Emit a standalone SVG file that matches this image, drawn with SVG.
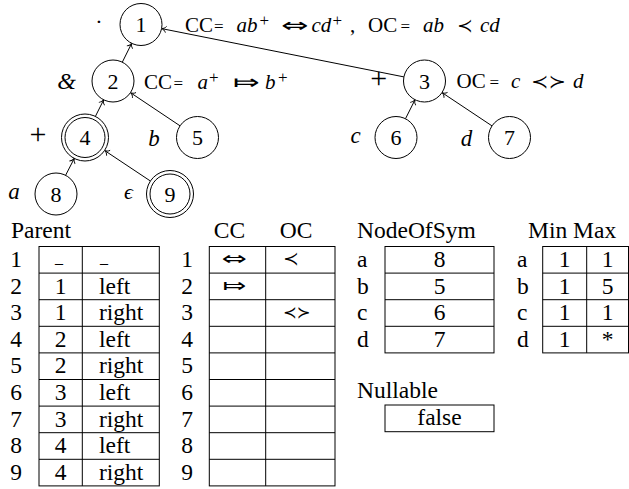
<svg xmlns="http://www.w3.org/2000/svg" width="629" height="489" viewBox="0 0 629 489">
<style>
.nd circle { fill: #fff; stroke: #000; stroke-width: 1; }
.d { font-size: 22px; text-anchor: middle; }
.lb { font-size: 21px; }
.i { font-style: italic; }
.op { text-anchor: middle; }
.tb { font-size: 23.5px; }
.ln { fill: none; stroke: #000; stroke-width: 1; }
.c { text-anchor: middle; }
</style>

<g id="connectors" stroke="#000" stroke-width="1" fill="none">
<line x1="122.3" y1="62.2" x2="131.7" y2="43.3"/>
<line x1="403.9" y1="76.9" x2="161.6" y2="28.6"/>
<line x1="95.4" y1="116.4" x2="103.7" y2="99.8"/>
<line x1="180.0" y1="125.8" x2="130.5" y2="92.7"/>
<line x1="405.5" y1="118.7" x2="415.0" y2="99.8"/>
<line x1="492.0" y1="125.9" x2="442.0" y2="92.6"/>
<line x1="65.6" y1="175.3" x2="74.3" y2="158.4"/>
<line x1="150.4" y1="181.0" x2="104.6" y2="150.5"/>
<g stroke-width="0.9">
<path transform="translate(131.7,43.3) rotate(-63.6)" d="M-4.5,-3.2C-3.5,-1.2 -1.5,-0.3 0,0C-1.5,0.3 -3.5,1.2 -4.5,3.2"/>
<path transform="translate(161.6,28.6) rotate(-168.7)" d="M-4.5,-3.2C-3.5,-1.2 -1.5,-0.3 0,0C-1.5,0.3 -3.5,1.2 -4.5,3.2"/>
<path transform="translate(103.7,99.8) rotate(-63.6)" d="M-4.5,-3.2C-3.5,-1.2 -1.5,-0.3 0,0C-1.5,0.3 -3.5,1.2 -4.5,3.2"/>
<path transform="translate(130.5,92.7) rotate(-146.2)" d="M-4.5,-3.2C-3.5,-1.2 -1.5,-0.3 0,0C-1.5,0.3 -3.5,1.2 -4.5,3.2"/>
<path transform="translate(415.0,99.8) rotate(-63.2)" d="M-4.5,-3.2C-3.5,-1.2 -1.5,-0.3 0,0C-1.5,0.3 -3.5,1.2 -4.5,3.2"/>
<path transform="translate(442.0,92.6) rotate(-146.4)" d="M-4.5,-3.2C-3.5,-1.2 -1.5,-0.3 0,0C-1.5,0.3 -3.5,1.2 -4.5,3.2"/>
<path transform="translate(74.3,158.4) rotate(-62.8)" d="M-4.5,-3.2C-3.5,-1.2 -1.5,-0.3 0,0C-1.5,0.3 -3.5,1.2 -4.5,3.2"/>
<path transform="translate(104.6,150.5) rotate(-146.4)" d="M-4.5,-3.2C-3.5,-1.2 -1.5,-0.3 0,0C-1.5,0.3 -3.5,1.2 -4.5,3.2"/>
</g>
</g>

<g id="node1" class="nd">
<circle cx="141" cy="24.5" r="21"/>
<text class="d" x="141" y="32" style="font-family:'Liberation Serif',serif">1</text>
<text class="op" x="99" y="29" font-size="22" style="font-family:'Liberation Serif',serif">·</text>
<text class="lb" y="31.5" style="font-family:'Liberation Serif',serif"><tspan x="185">CC</tspan><tspan x="214" font-size="17">=</tspan><tspan x="236.5" class="i">ab</tspan><tspan x="259.5" y="25.5" font-size="17">+</tspan><tspan x="311.5" y="31.5" class="i">cd</tspan><tspan x="332.5" y="25.5" font-size="17">+</tspan><tspan x="350" y="31.5">,</tspan><tspan x="368">OC</tspan><tspan x="400.5" font-size="17">=</tspan><tspan x="423" class="i">ab</tspan><tspan x="480" class="i">cd</tspan></text>
<text transform="translate(281,31.5) scale(1.65,1)" x="0" y="0" font-size="20" style="font-family:'DejaVu Sans',sans-serif">⇔</text>
<text x="457" y="31.5" font-size="19" style="font-family:'DejaVu Sans',sans-serif">≺</text>
</g>

<g id="node2" class="nd">
<circle cx="113" cy="81" r="21"/>
<text class="d" x="113" y="88.5" style="font-family:'Liberation Serif',serif">2</text>
<text class="op i" x="66.7" y="88.5" font-size="24" style="font-family:'Liberation Serif',serif">&amp;</text>
<text class="lb" y="88.5" style="font-family:'Liberation Serif',serif"><tspan x="144">CC</tspan><tspan x="173.5" font-size="17">=</tspan><tspan x="197.5" class="i">a</tspan><tspan x="209" y="82.5" font-size="17">+</tspan><tspan x="265" y="88.5" class="i">b</tspan><tspan x="278" y="82.5" font-size="17">+</tspan></text>
<text transform="translate(233,88.5) scale(1.6,1)" x="0" y="0" font-size="20" style="font-family:'DejaVu Sans',sans-serif">⤇</text>
</g>

<g id="node3" class="nd">
<circle cx="424.5" cy="81" r="21"/>
<text class="d" x="424.5" y="88.5" style="font-family:'Liberation Serif',serif">3</text>
<text class="op" x="378.7" y="87.6" font-size="30" style="font-family:'Liberation Serif',serif">+</text>
<text class="lb" y="88" style="font-family:'Liberation Serif',serif"><tspan x="456.5">OC</tspan><tspan x="489.5" font-size="17">=</tspan><tspan x="511" class="i">c</tspan><tspan x="573" class="i">d</tspan></text>
<text transform="translate(531,88) scale(1.1,1)" x="0" y="0" font-size="19" style="font-family:'DejaVu Sans',sans-serif">≺≻</text>
</g>

<g id="node4" class="nd">
<circle cx="85" cy="137.5" r="23.5"/>
<circle cx="85" cy="137.5" r="20"/>
<text class="d" x="85" y="145" style="font-family:'Liberation Serif',serif">4</text>
<text class="op" x="38" y="144.3" font-size="30" style="font-family:'Liberation Serif',serif">+</text>
</g>

<g id="node5" class="nd">
<circle cx="197.5" cy="137.5" r="21"/>
<text class="d" x="197.5" y="145" style="font-family:'Liberation Serif',serif">5</text>
<text class="i op" x="154" y="145.5" font-size="23" style="font-family:'Liberation Serif',serif">b</text>
</g>

<g id="node6" class="nd">
<circle cx="396" cy="137.5" r="21"/>
<text class="d" x="396" y="145" style="font-family:'Liberation Serif',serif">6</text>
<text class="i op" x="355.5" y="142.5" font-size="23" style="font-family:'Liberation Serif',serif">c</text>
</g>

<g id="node7" class="nd">
<circle cx="509.5" cy="137.5" r="21"/>
<text class="d" x="509.5" y="145" style="font-family:'Liberation Serif',serif">7</text>
<text class="i op" x="466.5" y="145.5" font-size="23" style="font-family:'Liberation Serif',serif">d</text>
</g>

<g id="node8" class="nd">
<circle cx="56" cy="194" r="21"/>
<text class="d" x="56" y="201.5" style="font-family:'Liberation Serif',serif">8</text>
<text class="i op" x="14" y="199.3" font-size="23" style="font-family:'Liberation Serif',serif">a</text>
</g>

<g id="node9" class="nd">
<circle cx="170" cy="194" r="23.5"/>
<circle cx="170" cy="194" r="20"/>
<text class="d" x="170" y="201.5" style="font-family:'Liberation Serif',serif">9</text>
<text class="i op" x="128.5" y="199.3" font-size="22" style="font-family:'Liberation Serif',serif">ϵ</text>
</g>

<g id="parent-table" class="tb">
<text x="11" y="237.5" style="font-family:'Liberation Serif',serif">Parent</text>
<rect class="ln" x="39" y="246.5" width="120.3" height="239.4"/>
<path class="ln" d="M82.3,246.5V485.9M39,273.1H159.3M39,299.7H159.3M39,326.3H159.3M39,352.9H159.3M39,379.5H159.3M39,406.1H159.3M39,432.7H159.3M39,459.3H159.3"/>
<text class="c" x="16" y="267" style="font-family:'Liberation Serif',serif">1</text>
<text class="c" x="16" y="293.6" style="font-family:'Liberation Serif',serif">2</text>
<text class="c" x="16" y="320.2" style="font-family:'Liberation Serif',serif">3</text>
<text class="c" x="16" y="346.8" style="font-family:'Liberation Serif',serif">4</text>
<text class="c" x="16" y="373.4" style="font-family:'Liberation Serif',serif">5</text>
<text class="c" x="16" y="400" style="font-family:'Liberation Serif',serif">6</text>
<text class="c" x="16" y="426.6" style="font-family:'Liberation Serif',serif">7</text>
<text class="c" x="16" y="453.2" style="font-family:'Liberation Serif',serif">8</text>
<text class="c" x="16" y="479.8" style="font-family:'Liberation Serif',serif">9</text>
<text class="c" x="59" y="263" font-size="16" style="font-family:'Liberation Serif',serif">_</text>
<text class="c" x="60.7" y="293.6" style="font-family:'Liberation Serif',serif">1</text>
<text class="c" x="60.7" y="320.2" style="font-family:'Liberation Serif',serif">1</text>
<text class="c" x="60.7" y="346.8" style="font-family:'Liberation Serif',serif">2</text>
<text class="c" x="60.7" y="373.4" style="font-family:'Liberation Serif',serif">2</text>
<text class="c" x="60.7" y="400" style="font-family:'Liberation Serif',serif">3</text>
<text class="c" x="60.7" y="426.6" style="font-family:'Liberation Serif',serif">3</text>
<text class="c" x="60.7" y="453.2" style="font-family:'Liberation Serif',serif">4</text>
<text class="c" x="60.7" y="479.8" style="font-family:'Liberation Serif',serif">4</text>
<text x="100" y="263" font-size="16" style="font-family:'Liberation Serif',serif">_</text>
<text x="99" y="293.6" style="font-family:'Liberation Serif',serif">left</text>
<text x="99" y="320.2" style="font-family:'Liberation Serif',serif">right</text>
<text x="99" y="346.8" style="font-family:'Liberation Serif',serif">left</text>
<text x="99" y="373.4" style="font-family:'Liberation Serif',serif">right</text>
<text x="99" y="400" style="font-family:'Liberation Serif',serif">left</text>
<text x="99" y="426.6" style="font-family:'Liberation Serif',serif">right</text>
<text x="99" y="453.2" style="font-family:'Liberation Serif',serif">left</text>
<text x="99" y="479.8" style="font-family:'Liberation Serif',serif">right</text>
</g>

<g id="ccoc-table" class="tb">
<text class="c" x="229.5" y="237.5" style="font-family:'Liberation Serif',serif">CC</text>
<text class="c" x="296" y="237.5" style="font-family:'Liberation Serif',serif">OC</text>
<rect class="ln" x="209.3" y="246.5" width="125.7" height="239.4"/>
<path class="ln" d="M265.7,246.5V485.9M209.3,273.1H335M209.3,299.7H335M209.3,326.3H335M209.3,352.9H335M209.3,379.5H335M209.3,406.1H335M209.3,432.7H335M209.3,459.3H335"/>
<text class="c" x="187" y="267" style="font-family:'Liberation Serif',serif">1</text>
<text class="c" x="187" y="293.6" style="font-family:'Liberation Serif',serif">2</text>
<text class="c" x="187" y="320.2" style="font-family:'Liberation Serif',serif">3</text>
<text class="c" x="187" y="346.8" style="font-family:'Liberation Serif',serif">4</text>
<text class="c" x="187" y="373.4" style="font-family:'Liberation Serif',serif">5</text>
<text class="c" x="187" y="400" style="font-family:'Liberation Serif',serif">6</text>
<text class="c" x="187" y="426.6" style="font-family:'Liberation Serif',serif">7</text>
<text class="c" x="187" y="453.2" style="font-family:'Liberation Serif',serif">8</text>
<text class="c" x="187" y="479.8" style="font-family:'Liberation Serif',serif">9</text>
<text transform="translate(221.5,265) scale(1.6,1)" x="0" y="0" font-size="19" style="font-family:'DejaVu Sans',sans-serif">⇔</text>
<text x="283" y="265" font-size="19" style="font-family:'DejaVu Sans',sans-serif">≺</text>
<text transform="translate(222.5,291.6) scale(1.5,1)" x="0" y="0" font-size="19" style="font-family:'DejaVu Sans',sans-serif">⤇</text>
<text x="283" y="318.2" font-size="16.5" style="font-family:'DejaVu Sans',sans-serif">≺≻</text>
</g>

<g id="nodeofsym-table" class="tb">
<text x="357" y="237.5" style="font-family:'Liberation Serif',serif">NodeOfSym</text>
<rect class="ln" x="385" y="246.5" width="109" height="106.4"/>
<path class="ln" d="M385,273.1H494M385,299.7H494M385,326.3H494"/>
<text x="357" y="267" style="font-family:'Liberation Serif',serif">a</text>
<text x="357" y="293.6" style="font-family:'Liberation Serif',serif">b</text>
<text x="357" y="320.2" style="font-family:'Liberation Serif',serif">c</text>
<text x="357" y="346.8" style="font-family:'Liberation Serif',serif">d</text>
<text class="c" x="439.5" y="267" style="font-family:'Liberation Serif',serif">8</text>
<text class="c" x="439.5" y="293.6" style="font-family:'Liberation Serif',serif">5</text>
<text class="c" x="439.5" y="320.2" style="font-family:'Liberation Serif',serif">6</text>
<text class="c" x="439.5" y="346.8" style="font-family:'Liberation Serif',serif">7</text>
</g>

<g id="minmax-table" class="tb">
<text x="528" y="237.5" style="font-family:'Liberation Serif',serif">Min Max</text>
<rect class="ln" x="542.7" y="246.5" width="85.8" height="106.4"/>
<path class="ln" d="M586.7,246.5V352.9M542.7,273.1H628.5M542.7,299.7H628.5M542.7,326.3H628.5"/>
<text x="517" y="267" style="font-family:'Liberation Serif',serif">a</text>
<text x="517" y="293.6" style="font-family:'Liberation Serif',serif">b</text>
<text x="517" y="320.2" style="font-family:'Liberation Serif',serif">c</text>
<text x="517" y="346.8" style="font-family:'Liberation Serif',serif">d</text>
<text class="c" x="564.7" y="267" style="font-family:'Liberation Serif',serif">1</text>
<text class="c" x="564.7" y="293.6" style="font-family:'Liberation Serif',serif">1</text>
<text class="c" x="564.7" y="320.2" style="font-family:'Liberation Serif',serif">1</text>
<text class="c" x="564.7" y="346.8" style="font-family:'Liberation Serif',serif">1</text>
<text class="c" x="607.6" y="267" style="font-family:'Liberation Serif',serif">1</text>
<text class="c" x="607.6" y="293.6" style="font-family:'Liberation Serif',serif">5</text>
<text class="c" x="607.6" y="320.2" style="font-family:'Liberation Serif',serif">1</text>
<text class="c" x="607.6" y="346.8" style="font-family:'Liberation Serif',serif">*</text>
</g>

<g id="nullable" class="tb">
<text x="357" y="397.5" style="font-family:'Liberation Serif',serif">Nullable</text>
<rect class="ln" x="385" y="405" width="109" height="26.7"/>
<text class="c" x="439.5" y="425" style="font-family:'Liberation Serif',serif">false</text>
</g>
</svg>
